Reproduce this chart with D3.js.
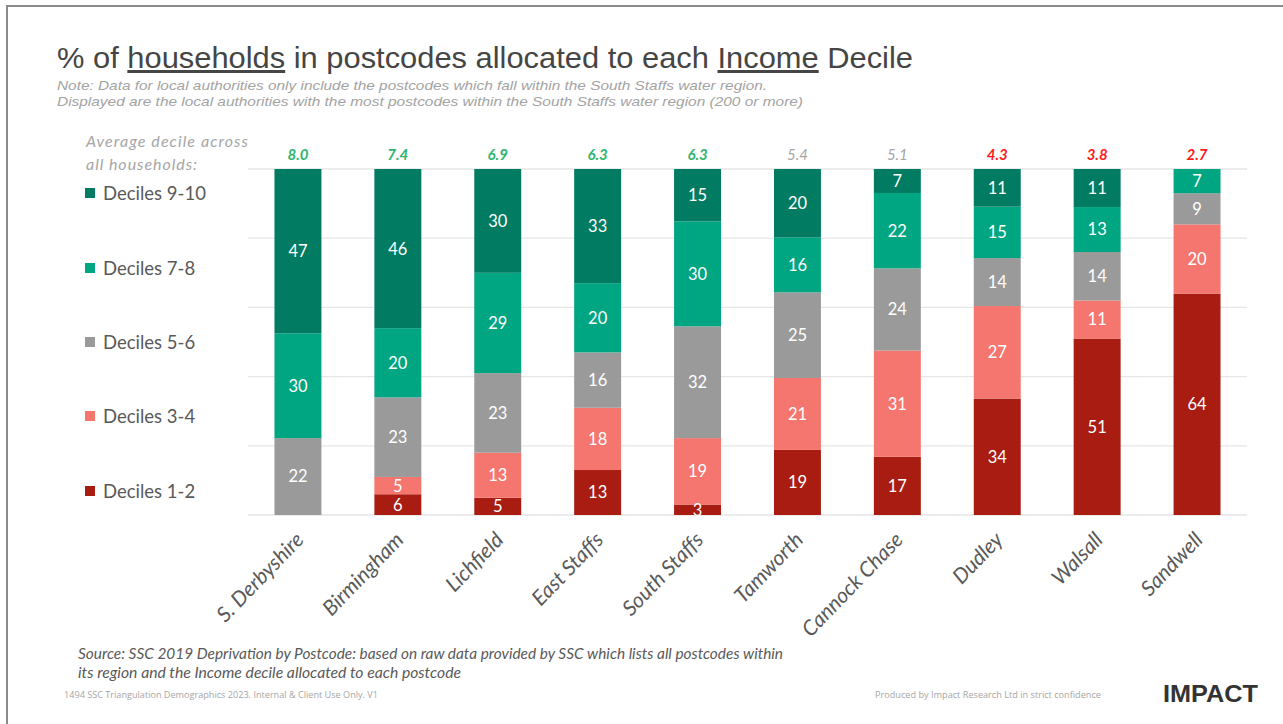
<!DOCTYPE html>
<html>
<head>
<meta charset="utf-8">
<script src="https://cdn.jsdelivr.net/npm/d3@7"></script>
<style>
  html, body { margin: 0; padding: 0; background: #fff; }
  svg { display: block; }
</style>
</head>
<body>
<svg id="chart" width="1283" height="724"></svg>
<script>
// Local authorities, ordered by average income decile
const categories = ["S. Derbyshire", "Birmingham", "Lichfield", "East Staffs", "South Staffs",
                    "Tamworth", "Cannock Chase", "Dudley", "Walsall", "Sandwell"];

// % of households per decile band
const deciles12  = [0, 6, 5, 13, 3, 19, 17, 34, 51, 64];
const deciles34  = [0, 5, 13, 18, 19, 21, 31, 27, 11, 20];
const deciles56  = [22, 23, 23, 16, 32, 25, 24, 14, 14, 9];
const deciles78  = [30, 20, 29, 20, 30, 16, 22, 15, 13, 7];
const deciles910 = [47, 46, 30, 33, 15, 20, 7, 11, 11, 0];

// Average decile across all households
const averages = [8.0, 7.4, 6.9, 6.3, 6.3, 5.4, 5.1, 4.3, 3.8, 2.7];

const seriesNames = ["Deciles 1-2", "Deciles 3-4", "Deciles 5-6", "Deciles 7-8", "Deciles 9-10"];
const seriesColors = ["#a81c12", "#f4766e", "#9a9a9a", "#00a582", "#017b61"];
const seriesValues = [deciles12, deciles34, deciles56, deciles78, deciles910];

const rows = categories.map((c, i) => {
  const r = { cat: c };
  seriesNames.forEach((s, k) => { r[s] = seriesValues[k][i]; });
  return r;
});

const svg = d3.select("#chart");

// Slide frame
svg.append("line").attr("x1", 7).attr("x2", 1283).attr("y1", 6).attr("y2", 6)
  .attr("stroke", "#8a8a8a").attr("stroke-width", 2);
svg.append("line").attr("x1", 7).attr("x2", 7).attr("y1", 5).attr("y2", 724)
  .attr("stroke", "#8a8a8a").attr("stroke-width", 2);

// Title
const title = svg.append("text")
  .attr("x", 57).attr("y", 68)
  .attr("font-family", "'Liberation Sans Narrow', 'Arial Narrow', 'Liberation Sans', sans-serif")
  .attr("font-size", 30)
  .attr("fill", "#454545")
  .attr("textLength", 856)
  .attr("lengthAdjust", "spacingAndGlyphs");
title.append("tspan").text("% of ");
title.append("tspan").text("households").style("text-decoration", "underline");
title.append("tspan").text(" in postcodes allocated to each ");
title.append("tspan").text("Income").style("text-decoration", "underline");
title.append("tspan").text(" Decile");

const notes = [
  ["Note: Data for local authorities only include the postcodes which fall within the South Staffs water region.", 90, 710],
  ["Displayed are the local authorities with the most postcodes within the South Staffs water region (200 or more)", 106, 746]
];
notes.forEach(([t, y, w]) => {
  svg.append("text")
    .attr("x", 57).attr("y", y)
    .attr("font-family", "'Liberation Sans Narrow', 'Arial Narrow', 'Liberation Sans', sans-serif")
    .attr("font-size", 13.5).attr("font-style", "italic")
    .attr("fill", "#a3a3a3")
    .attr("textLength", w).attr("lengthAdjust", "spacingAndGlyphs")
    .text(t);
});

// Plot area
const plot = { left: 248, right: 1247, top: 169, bottom: 515 };

const x = d3.scaleBand()
  .domain(categories)
  .range([plot.left, plot.right])
  .paddingInner(0.53)
  .paddingOuter(0.265);

const y = d3.scaleLinear().domain([0, 1]).range([plot.bottom, plot.top]);

// Gridlines
const grid = svg.append("g");
y.ticks(5).forEach(t => {
  grid.append("line")
    .attr("x1", plot.left).attr("x2", plot.right)
    .attr("y1", y(t)).attr("y2", y(t))
    .attr("stroke", "#e6e6e6").attr("stroke-width", 1.3);
});

// Stacked 100% bars
const stack = d3.stack().keys(seriesNames).offset(d3.stackOffsetExpand);
const stacked = stack(rows);

const layers = svg.append("g").selectAll("g")
  .data(stacked)
  .join("g")
  .attr("fill", (d, i) => seriesColors[i]);

layers.selectAll("rect")
  .data(d => d.map(p => ({ p, key: d.key })))
  .join("rect")
  .attr("x", d => x(d.p.data.cat))
  .attr("width", x.bandwidth())
  .attr("y", d => y(d.p[1]))
  .attr("height", d => y(d.p[0]) - y(d.p[1]));

// Segment value labels
const labels = svg.append("g")
  .attr("font-family", "Lato, 'Open Sans', sans-serif")
  .attr("font-size", 16.5)
  .attr("fill", "#ffffff")
  .attr("text-anchor", "middle");
stacked.forEach(layer => {
  layer.forEach(p => {
    const v = p.data[layer.key];
    if (!v) return;
    labels.append("text")
      .attr("x", x(p.data.cat) + x.bandwidth() / 2)
      .attr("y", (y(p[0]) + y(p[1])) / 2)
      .attr("dy", "0.36em")
      .text(v);
  });
});

// Average decile above each bar
const avgColor = v => v >= 6 ? "#2db56e" : (v >= 5 ? "#a6a6a6" : "#ff1a1a");
svg.append("g").selectAll("text")
  .data(averages)
  .join("text")
  .attr("x", (d, i) => x(categories[i]) + x.bandwidth() / 2)
  .attr("y", 160)
  .attr("text-anchor", "middle")
  .attr("font-family", "Lato, 'Open Sans', sans-serif")
  .attr("font-size", 15)
  .attr("font-style", "italic")
  .attr("font-weight", d => d >= 5 && d < 6 ? "normal" : "bold")
  .attr("fill", avgColor)
  .text(d => d.toFixed(1));

// Category axis (rotated labels, no line)
const xAxis = svg.append("g")
  .attr("transform", `translate(0,${plot.bottom})`)
  .call(d3.axisBottom(x).tickSize(0).tickPadding(0));
xAxis.select(".domain").remove();
xAxis.selectAll("text")
  .attr("font-family", "Lato, 'Open Sans', sans-serif")
  .attr("font-size", 21)
  .attr("font-style", "italic")
  .attr("fill", "#595959")
  .attr("text-anchor", "end")
  .attr("dy", 0)
  .attr("transform", "translate(7,26) rotate(-46)");

// Legend
const legendHead = svg.append("g")
  .attr("font-family", "Lato, 'Open Sans', sans-serif")
  .attr("font-size", 16)
  .attr("font-style", "italic")
  .attr("fill", "#a6a6a6");
legendHead.append("text").attr("x", 86).attr("y", 147)
  .attr("textLength", 162).attr("lengthAdjust", "spacing")
  .text("Average decile across");
legendHead.append("text").attr("x", 86).attr("y", 170)
  .attr("textLength", 111).attr("lengthAdjust", "spacing")
  .text("all households:");

const legendY = [491, 416, 342, 268, 193];
const legend = svg.append("g").selectAll("g")
  .data(seriesNames)
  .join("g")
  .attr("transform", (d, i) => `translate(85,${legendY[i]})`);
legend.append("rect")
  .attr("x", 0).attr("y", -5).attr("width", 10).attr("height", 10)
  .attr("fill", (d, i) => seriesColors[i]);
legend.append("text")
  .attr("x", 18).attr("y", 0).attr("dy", "0.36em")
  .attr("font-family", "Lato, 'Open Sans', sans-serif")
  .attr("font-size", 18.5)
  .attr("fill", "#595959")
  .text(d => d);

// Source note
const src = svg.append("g")
  .attr("font-family", "Lato, 'Open Sans', sans-serif")
  .attr("font-size", 15)
  .attr("font-style", "italic")
  .attr("fill", "#595959");
src.append("text").attr("x", 78).attr("y", 659)
  .attr("textLength", 705).attr("lengthAdjust", "spacingAndGlyphs")
  .text("Source: SSC 2019 Deprivation by Postcode: based on raw data provided by SSC which lists all postcodes within");
src.append("text").attr("x", 78).attr("y", 678)
  .attr("textLength", 383).attr("lengthAdjust", "spacingAndGlyphs")
  .text("its region and the Income decile allocated to each postcode");

// Footer
svg.append("text")
  .attr("x", 64).attr("y", 698)
  .attr("font-family", "'Open Sans', sans-serif")
  .attr("font-size", 9).attr("fill", "#a6a6a6")
  .attr("textLength", 314).attr("lengthAdjust", "spacingAndGlyphs")
  .text("1494 SSC Triangulation Demographics 2023. Internal & Client Use Only. V1");
svg.append("text")
  .attr("x", 875).attr("y", 698)
  .attr("font-family", "'Open Sans', sans-serif")
  .attr("font-size", 9).attr("fill", "#a6a6a6")
  .attr("textLength", 226).attr("lengthAdjust", "spacingAndGlyphs")
  .text("Produced by Impact Research Ltd in strict confidence");
svg.append("text")
  .attr("x", 1163).attr("y", 702)
  .attr("font-family", "'Liberation Sans', Arial, sans-serif")
  .attr("font-size", 23).attr("font-weight", 900)
  .attr("fill", "#333333")
  .attr("textLength", 95).attr("lengthAdjust", "spacingAndGlyphs")
  .text("IMPACT");
</script>
</body>
</html>
